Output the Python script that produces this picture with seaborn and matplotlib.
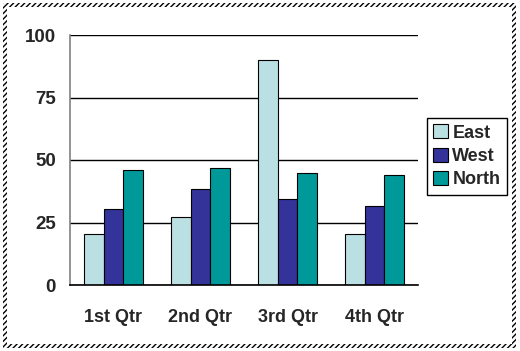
import pandas as pd
import matplotlib
matplotlib.use("Agg")
import matplotlib.pyplot as plt
from matplotlib.patches import Rectangle
import seaborn as sns

# Chart data
quarters = ["1st Qtr", "2nd Qtr", "3rd Qtr", "4th Qtr"]
east = [20.4, 27.4, 90, 20.4]
west = [30.6, 38.6, 34.6, 31.6]
north = [45.9, 46.9, 45, 43.9]
regions = ["East", "West", "North"]
colors = ["#BBE0E3", "#333399", "#009999"]

df = pd.DataFrame({
    "Quarter": quarters * 3,
    "Region": ["East"] * 4 + ["West"] * 4 + ["North"] * 4,
    "Value": east + west + north,
})

sns.set_style("white")
plt.rcParams['font.family'] = ['Liberation Sans', 'DejaVu Sans']
plt.rcParams['font.weight'] = 'bold'

fig = plt.figure(figsize=(5.2, 3.51), dpi=100)
ax = fig.add_axes([70 / 520, 1 - 285 / 351, 348 / 520, 250 / 351])

sns.barplot(data=df, x="Quarter", y="Value", hue="Region", hue_order=regions,
            palette=colors, width=0.667, gap=0, edgecolor="black",
            linewidth=0.8, saturation=1, ax=ax)

ax.set_xlim(-0.5, 3.5)
ax.set_ylim(0, 100)
ax.set_yticks([0, 25, 50, 75, 100])
ax.yaxis.grid(True, color="black", linewidth=1)
ax.set_axisbelow(True)
ax.set_xlabel("")
ax.set_ylabel("")

for s in ["top", "right"]:
    ax.spines[s].set_visible(False)
ax.spines["left"].set_color("#808080")
ax.spines["left"].set_linewidth(1.2)
ax.spines["bottom"].set_color("black")
ax.spines["bottom"].set_linewidth(1.2)

ax.tick_params(axis="y", length=5, width=1, color="#808080", labelsize=13.5, pad=5)
ax.tick_params(axis="x", which="major", length=0, labelsize=13, pad=17)
ax.set_xticks([-0.5, 0.5, 1.5, 2.5, 3.5], minor=True)
ax.tick_params(axis="x", which="minor", length=5, width=1, color="black")
for lab in ax.get_xticklabels() + ax.get_yticklabels():
    lab.set_fontweight("bold")

handles, labels = ax.get_legend_handles_labels()
ax.legend(handles, labels, loc="upper left",
          bbox_to_anchor=(427 / 520, 1 - 118 / 351), bbox_transform=fig.transFigure,
          frameon=True, fancybox=False, edgecolor="black", framealpha=1,
          prop={"weight": "bold", "size": 13}, handlelength=0.8, handleheight=0.8,
          handletextpad=0.25, labelspacing=0.35, borderpad=0.35, borderaxespad=0)
ax.get_legend().get_frame().set_linewidth(1)

# hatched selection frame around the chart
W, H = 520, 351
bands = [(3, 3, 513, 4), (3, 344, 513, 4), (3, 3, 4, 345), (512, 3, 4, 345)]
for x, y, w, h in bands:
    fig.patches.append(Rectangle((x / W, 1 - (y + h) / H), w / W, h / H,
                                 transform=fig.transFigure, facecolor="white",
                                 edgecolor="black", hatch="//////", linewidth=0))

fig.savefig("out.png", dpi=100)
